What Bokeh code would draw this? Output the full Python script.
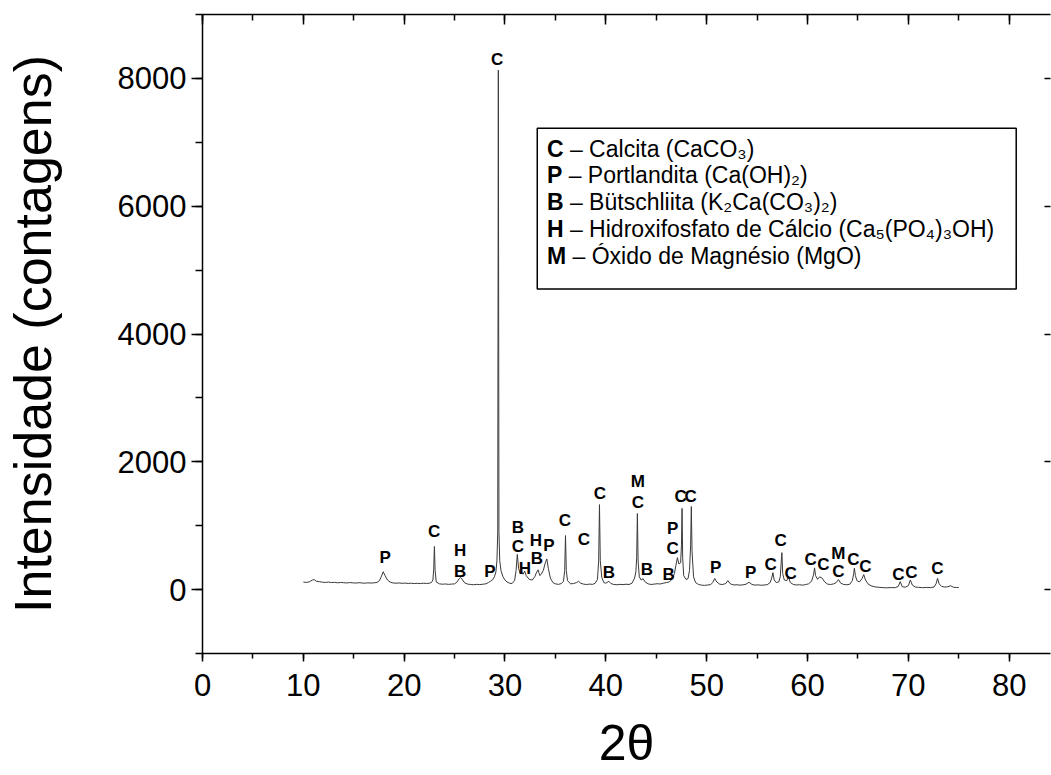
from bokeh.plotting import figure
from bokeh.models import (Range1d, LinearAxis, BoxAnnotation, ColumnDataSource,
                          SingleIntervalTicker)
from bokeh.core.properties import value
from bokeh.embed import file_html
from bokeh.resources import INLINE

# ---------------- data ----------------
# XRD pattern, 2-theta (degrees) and intensity (counts), region by region
r1_tt = [10.0, 10.3, 10.6, 10.9, 11.1, 11.3, 11.6, 11.9, 12.2, 12.5, 12.8, 13.1, 13.4,
         13.7, 14.0, 14.3, 14.6, 14.9, 15.2, 15.5, 15.8, 16.1, 16.4, 16.7, 17.0, 17.3]
r1_ct = [118, 112, 122, 150, 156, 130, 124, 116, 112, 118, 110, 114, 106,
         112, 108, 104, 110, 106, 102, 108, 104, 100, 106, 102, 106, 112]

r2_tt = [17.55, 17.75, 17.92, 18.1, 18.35, 18.6, 18.9, 19.2, 19.5, 19.8, 20.1, 20.4,
         20.7, 21.0, 21.3, 21.6, 21.9, 22.2, 22.5, 22.7]
r2_ct = [140, 210, 280, 220, 150, 118, 104, 100, 104, 98, 102, 96,
         100, 94, 98, 94, 100, 96, 100, 110]

r3_tt = [22.85, 22.93, 23.0, 23.07, 23.18, 23.5, 23.8, 24.1, 24.4, 24.7, 25.0, 25.25,
         25.45, 25.6, 25.8, 26.0, 26.3, 26.6, 26.9, 27.2, 27.5, 27.8, 28.1, 28.35,
         28.55, 28.75, 28.95]
r3_ct = [150, 320, 675, 300, 120, 90, 84, 88, 82, 86, 90, 120,
         170, 190, 150, 105, 86, 80, 76, 82, 78, 84, 90, 110,
         130, 150, 200]

r4_tt = [29.1, 29.2, 29.28, 29.34, 29.4, 29.48, 29.6, 29.8, 30.0, 30.2, 30.45, 30.7]
r4_ct = [280, 450, 900, 8130, 900, 450, 300, 200, 150, 120, 100, 95]

r5_tt = [30.95, 31.1, 31.22, 31.35, 31.5, 31.65, 31.8, 31.95, 32.1, 32.4, 32.7, 32.95,
         33.1, 33.28, 33.45, 33.6, 33.8, 34.0, 34.15, 34.3, 34.5, 34.75, 35.0]
r5_ct = [140, 300, 550, 330, 250, 280, 240, 290, 220, 160, 150, 200,
         260, 310, 220, 240, 300, 420, 480, 330, 180, 110, 90]

r6_tt = [35.3, 35.6, 35.8, 35.92, 36.0, 36.08, 36.2, 36.5, 36.8, 37.1, 37.3, 37.5,
         37.8, 38.1, 38.4, 38.7, 38.95, 39.17]
r6_ct = [82, 95, 130, 300, 845, 300, 140, 90, 95, 110, 130, 100,
         85, 80, 86, 82, 100, 160]

r7_tt = [39.29, 39.37, 39.45, 39.6, 39.8, 40.0, 40.3, 40.5, 40.8, 41.1, 41.4, 41.7,
         42.0, 42.3, 42.6, 42.85]
r7_ct = [450, 1330, 450, 190, 110, 100, 130, 95, 80, 76, 82, 78,
         84, 80, 100, 180]

r8_tt = [42.98, 43.06, 43.13, 43.2, 43.32, 43.5, 43.7, 43.9, 44.2, 44.5, 44.8, 45.1,
         45.4, 45.7, 46.0, 46.3, 46.55, 46.8]
r8_ct = [280, 500, 1190, 450, 200, 150, 170, 120, 90, 80, 86, 92,
         88, 100, 110, 120, 160, 250]

r9_tt = [46.95, 47.1, 47.25, 47.42, 47.5, 47.56, 47.62, 47.72, 47.95, 48.15, 48.3, 48.41,
         48.48, 48.55, 48.7, 48.9, 49.2, 49.5, 49.8, 50.1, 50.4, 50.6]
r9_ct = [380, 500, 400, 420, 700, 1270, 500, 220, 160, 170, 300, 700,
         1300, 600, 200, 110, 80, 70, 66, 72, 78, 110]

r10_tt = [50.8, 51.0, 51.3, 51.6, 51.9, 52.1, 52.35, 52.7, 53.0, 53.3, 53.6, 53.9,
          54.2, 54.5, 54.8, 55.1, 55.4, 55.7, 56.0, 56.3, 56.45, 56.57, 56.7, 56.9,
          57.15, 57.3, 57.38, 57.46, 57.54, 57.7, 57.95, 58.1, 58.3, 58.6, 58.9, 59.2,
          59.5, 59.8, 60.1, 60.4]
r10_ct = [175, 120, 84, 80, 96, 140, 90, 72, 76, 70, 74, 84,
          115, 80, 70, 74, 68, 72, 76, 110, 180, 265, 150, 110,
          120, 200, 400, 578, 250, 150, 140, 200, 110, 80, 72, 76,
          70, 78, 90, 130]

r11_tt = [60.6, 60.7, 60.8, 61.0, 61.2, 61.45, 61.7, 62.0, 62.3, 62.6, 62.85, 63.07,
          63.3, 63.6, 63.9, 64.2, 64.45, 64.58, 64.65, 64.75, 64.9, 65.15, 65.4, 65.58,
          65.75, 66.0, 66.3, 66.7, 67.1, 67.5, 67.9, 68.3, 68.7, 69.0, 69.2, 69.4,
          69.7, 70.0, 70.2, 70.4, 70.7, 71.0, 71.4, 71.8, 72.2, 72.55, 72.75, 72.9,
          73.05, 73.3, 73.6, 73.9, 74.2, 74.5, 74.8, 75.0]
r11_ct = [230, 340, 220, 160, 200, 180, 120, 85, 80, 90, 110, 156,
          100, 80, 76, 84, 140, 250, 335, 220, 140, 120, 170, 235,
          150, 90, 60, 42, 36, 30, 28, 32, 30, 50, 125, 45,
          38, 60, 150, 70, 40, 36, 30, 34, 32, 40, 90, 177,
          90, 50, 40, 44, 60, 36, 32, 34]

two_theta = r1_tt + r2_tt + r3_tt + r4_tt + r5_tt + r6_tt + r7_tt + r8_tt + r9_tt + r10_tt + r11_tt
counts = r1_ct + r2_ct + r3_ct + r4_ct + r5_ct + r6_ct + r7_ct + r8_ct + r9_ct + r10_ct + r11_ct

# Phase labels on the peaks (2-theta position, counts position, letter)
peak_lbl_x = [18.12, 22.97, 25.54, 25.54, 28.51, 29.21, 31.29, 31.29, 31.98, 33.07,
              34.36, 33.17, 35.94, 37.82, 39.41, 40.30, 43.17, 43.17, 44.06, 46.24,
              46.63, 46.63, 47.43, 48.42, 50.89, 54.36, 56.34, 57.33, 58.32, 60.30,
              61.58, 63.07, 63.07, 64.55, 65.74, 69.01, 70.30, 72.87]
peak_lbl_y = [500, 906, 609, 281, 281, 8297, 969, 672, 328, 766,
              688, 484, 1078, 781, 1500, 266, 1688, 1359, 313, 234,
              953, 641, 1453, 1453, 344, 266, 391, 766, 250, 469,
              391, 563, 281, 469, 359, 234, 266, 328]
peak_lbl_txt = ["P", "C", "H", "B", "P", "C", "B", "C", "H", "H",
                "P", "B", "C", "C", "C", "B", "M", "C", "B", "B",
                "P", "C", "C", "C", "P", "P", "C", "C", "C", "C",
                "C", "M", "C", "C", "C", "C", "C", "C"]

# Legend box content
legend_keys = ["C", "P", "B", "H", "M"]
legend_desc = ["\u00a0\u2013 Calcita (CaCO\u2083)",
               "\u00a0\u2013 Portlandita (Ca(OH)\u2082)",
               "\u00a0\u2013 B\u00fctschliita (K\u2082Ca(CO\u2083)\u2082)",
               "\u00a0\u2013 Hidroxifosfato de C\u00e1lcio (Ca\u2085(PO\u2084)\u2083OH)",
               "\u00a0\u2013 \u00d3xido de Magn\u00e9sio (MgO)"]
legend_key_width_px = [16.6, 15.3, 16.6, 16.6, 19.2]

x_title = "2\u03b8"
y_title = "Intensidade (contagens)"

# ---------------- figure ----------------
FONT = "Liberation Sans"

p = figure(width=1051, height=775, output_backend="svg", toolbar_location=None,
           x_range=Range1d(0, 84.1), y_range=Range1d(-1000, 9000),
           min_border_left=202, min_border_right=1, min_border_top=14,
           min_border_bottom=122, background_fill_color="white",
           border_fill_color="white", outline_line_color=None)
p.grid.visible = False

# legend box (underlay) so that its text is drawn on top of it
p.add_layout(BoxAnnotation(left=33.2, right=80.7, top=7219, bottom=4703,
                           fill_color="white", fill_alpha=1.0, level="underlay",
                           line_color="black", line_alpha=1.0, line_width=1.5))

p.line(two_theta, counts, line_color="#3a3a3a", line_width=1.0)

# axes
xa = p.xaxis[0]
xa.ticker = SingleIntervalTicker(interval=10, num_minor_ticks=2)
ya = p.yaxis[0]
ya.ticker = SingleIntervalTicker(interval=2000, num_minor_ticks=2)

for ax in (xa, ya):
    ax.axis_line_color = "black"
    ax.axis_line_width = 1.5
    ax.major_tick_line_color = "black"
    ax.minor_tick_line_color = "black"
    ax.major_tick_line_width = 1.5
    ax.minor_tick_line_width = 1.5
    ax.major_tick_in = 0
    ax.minor_tick_in = 0
    ax.major_label_text_font = FONT
    ax.major_label_text_font_size = "31px"
    ax.major_label_text_color = "black"
    ax.axis_label_text_font = FONT
    ax.axis_label_text_font_style = "normal"
    ax.axis_label_text_color = "black"

xa.major_tick_out = 8
xa.minor_tick_out = 5
xa.major_label_standoff = 12
xa.axis_label = x_title
xa.axis_label_text_font_size = "50px"
xa.axis_label_standoff = 16

ya.major_tick_out = 11
ya.minor_tick_out = 7
ya.major_label_standoff = 5
ya.axis_label = y_title
ya.axis_label_text_font_size = "52px"
ya.axis_label_standoff = 53

top = LinearAxis(ticker=SingleIntervalTicker(interval=10, num_minor_ticks=2))
right = LinearAxis(ticker=SingleIntervalTicker(interval=2000, num_minor_ticks=2))
for ax in (top, right):
    ax.axis_line_color = "black"
    ax.axis_line_width = 1.5
    ax.major_tick_line_color = "black"
    ax.minor_tick_line_color = "black"
    ax.major_tick_line_width = 1.5
    ax.minor_tick_line_width = 1.5
    ax.major_tick_out = 0
    ax.minor_tick_out = 0
    ax.major_label_text_font_size = "1px"
    ax.major_label_text_color = None
    ax.major_label_standoff = 0
top.major_tick_in = 10
top.minor_tick_in = 6
right.major_tick_in = 6
right.minor_tick_in = 0
right.axis_line_color = None
p.add_layout(top, "above")
p.add_layout(right, "right")

# peak labels
src = ColumnDataSource(dict(x=peak_lbl_x, y=peak_lbl_y, t=peak_lbl_txt))
p.text(x="x", y="y", text="t", source=src, text_align="center", text_baseline="middle",
       text_font=value(FONT), text_font_style="bold", text_font_size="17px",
       text_color="black")

# legend text
leg_y = [6891, 6484, 6063, 5641, 5219]
leg_x = [34.16] * 5
lsrc = ColumnDataSource(dict(x=leg_x, y=leg_y, k=legend_keys, d=legend_desc,
                             off=legend_key_width_px))
p.text(x="x", y="y", text="k", source=lsrc, text_align="left", text_baseline="middle",
       text_font=value(FONT), text_font_style="bold", text_font_size="23px",
       text_color="black")
p.text(x="x", y="y", text="d", source=lsrc, x_offset="off", text_align="left",
       text_baseline="middle", text_font=value(FONT), text_font_size="23px",
       text_color="black")

open("out.html", "w").write(file_html(p, INLINE))
